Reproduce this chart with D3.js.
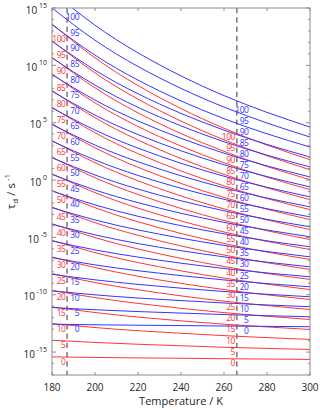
<!DOCTYPE html>
<html><head><meta charset="utf-8">
<script src="https://cdn.jsdelivr.net/npm/d3@7"></script>
<style>body{margin:0;background:#fff} svg{display:block} text{font-family:"Open Sans",sans-serif}</style>
</head><body><svg id="c" width="320" height="410"></svg>
<script>
// Temperatures (K) at which the curves were read
const temps = [180, 200, 220, 240, 260, 280, 300];
// Curve labels (activation energies)
const energies = [0,5,10,15,20,25,30,35,40,45,50,55,60,65,70,75,80,85,90,95,100];
// log10(tau_d / s^-1) for the blue family, one row per label, one column per temperature
const blueLog = [
  [-12.57,-12.62,-12.66,-12.69,-12.73,-12.76,-12.79],
  [-11.12,-11.31,-11.47,-11.60,-11.73,-11.83,-11.92],
  [-9.67,-10.01,-10.29,-10.51,-10.72,-10.89,-11.05],
  [-8.22,-8.70,-9.10,-9.43,-9.72,-9.96,-10.18],
  [-6.77,-7.40,-7.91,-8.34,-8.71,-9.03,-9.31],
  [-5.31,-6.09,-6.72,-7.25,-7.71,-8.10,-8.44],
  [-3.86,-4.78,-5.54,-6.16,-6.70,-7.16,-7.57],
  [-2.41,-3.48,-4.35,-5.07,-5.70,-6.23,-6.70],
  [-0.96,-2.17,-3.16,-3.98,-4.69,-5.30,-5.82],
  [0.49,-0.87,-1.97,-2.90,-3.69,-4.36,-4.95],
  [1.94,0.44,-0.79,-1.81,-2.68,-3.43,-4.08],
  [3.39,1.75,0.40,-0.72,-1.68,-2.50,-3.21],
  [4.84,3.05,1.59,0.37,-0.68,-1.57,-2.34],
  [6.29,4.36,2.78,1.46,0.33,-0.63,-1.47],
  [7.75,5.66,3.96,2.55,1.33,0.30,-0.60],
  [9.20,6.97,5.15,3.64,2.34,1.23,0.27],
  [10.65,8.28,6.34,4.72,3.34,2.17,1.14],
  [12.10,9.58,7.52,5.81,4.35,3.10,2.01],
  [13.55,10.89,8.71,6.90,5.35,4.03,2.88],
  [15.00,12.19,9.90,7.99,6.36,4.97,3.75],
  [16.45,13.50,11.09,9.08,7.36,5.90,4.62]
];
// log10(tau_d / s^-1) for the red family
const redLog = [
  [-15.42,-15.47,-15.51,-15.54,-15.58,-15.61,-15.64],
  [-13.97,-14.16,-14.32,-14.45,-14.58,-14.68,-14.77],
  [-12.52,-12.86,-13.14,-13.36,-13.57,-13.74,-13.90],
  [-11.07,-11.55,-11.95,-12.28,-12.57,-12.81,-13.03],
  [-9.62,-10.25,-10.76,-11.19,-11.56,-11.88,-12.16],
  [-8.16,-8.94,-9.57,-10.10,-10.56,-10.95,-11.29],
  [-6.71,-7.63,-8.39,-9.01,-9.55,-10.01,-10.42],
  [-5.26,-6.33,-7.20,-7.92,-8.55,-9.08,-9.55],
  [-3.81,-5.02,-6.01,-6.83,-7.54,-8.15,-8.67],
  [-2.36,-3.72,-4.82,-5.75,-6.54,-7.21,-7.80],
  [-0.91,-2.41,-3.64,-4.66,-5.53,-6.28,-6.93],
  [0.54,-1.10,-2.45,-3.57,-4.53,-5.35,-6.06],
  [1.99,0.20,-1.26,-2.48,-3.53,-4.42,-5.19],
  [3.44,1.51,-0.07,-1.39,-2.52,-3.48,-4.32],
  [4.90,2.81,1.11,-0.30,-1.52,-2.55,-3.45],
  [6.35,4.12,2.30,0.79,-0.51,-1.62,-2.58],
  [7.80,5.43,3.49,1.87,0.49,-0.68,-1.71],
  [9.25,6.73,4.67,2.96,1.50,0.25,-0.84],
  [10.70,8.04,5.86,4.05,2.50,1.18,0.03],
  [12.15,9.34,7.05,5.14,3.51,2.12,0.90],
  [13.60,10.65,8.24,6.23,4.51,3.05,1.77]
];
const xTicks = [180, 200, 220, 240, 260, 280, 300];
const yMajorExp = [-15, -10, -5, 0, 5, 10, 15];
const dashedTemps = [187, 266];
const labelTemps = {redLeft: 186.3, blueLeft: 192.6, redRight: 265.1, blueRight: 271.4};

const svg = d3.select("#c");
const L = 52, R = 310, T = 8, B = 375;
const x = d3.scaleLinear().domain([180, 300]).range([L, R]);
const y = d3.scaleLog().domain([1e-17, 1e15]).range([B, T]);
const BLUE = "#3535ff", RED = "#ff3535";

svg.append("defs").append("clipPath").attr("id", "clip")
  .append("rect").attr("x", L).attr("y", T).attr("width", R - L).attr("height", B - T);

// dashed reference lines
svg.selectAll(".dash").data(dashedTemps).enter().append("line")
  .attr("x1", d => x(d)).attr("x2", d => x(d)).attr("y1", T).attr("y2", B)
  .attr("stroke", "#333").attr("stroke-width", 1).attr("stroke-dasharray", "5.3,4");

const line = d3.line().x((d, i) => x(temps[i])).y(d => y(Math.pow(10, d))).curve(d3.curveNatural);
const g = svg.append("g").attr("clip-path", "url(#clip)");
function drawFamily(rows, color) {
  g.selectAll(null).data(rows).enter().append("path")
    .attr("d", line).attr("fill", "none").attr("stroke", color).attr("stroke-width", 1);
}
drawFamily(redLog, RED);
drawFamily(blueLog, BLUE);

function addLabels(rows, color, tLab) {
  rows.forEach((row, k) => {
    const interp = d3.scaleLinear().domain(temps).range(row);
    svg.append("text").attr("x", x(tLab)).attr("y", y(Math.pow(10, interp(tLab))) + 4)
      .attr("text-anchor", "end").attr("dominant-baseline", "central")
      .attr("font-size", 8.5).attr("letter-spacing", -0.45).attr("fill", color).text(energies[k]);
  });
}
addLabels(redLog, RED, labelTemps.redLeft);
addLabels(blueLog, BLUE, labelTemps.blueLeft);
addLabels(redLog, RED, labelTemps.redRight);
addLabels(blueLog, BLUE, labelTemps.blueRight);

// frame
svg.append("rect").attr("x", L).attr("y", T).attr("width", R - L).attr("height", B - T)
  .attr("fill", "none").attr("stroke", "#8c8c8c").attr("stroke-width", 1);

// x ticks
xTicks.forEach(t => {
  [[B, B - 3], [T, T + 3]].forEach(([a, b]) => svg.append("line")
    .attr("x1", x(t)).attr("x2", x(t)).attr("y1", a).attr("y2", b).attr("stroke", "#8c8c8c"));
  svg.append("text").attr("x", x(t)).attr("y", B + 12).attr("text-anchor", "middle")
    .attr("dominant-baseline", "central").attr("font-size", 10).attr("fill", "#262626").text(t);
});
// y ticks
d3.range(-17, 16).forEach(e => {
  const major = yMajorExp.includes(e);
  const len = major ? 4 : 2;
  const yy = y(Math.pow(10, e));
  svg.append("line").attr("x1", L).attr("x2", L + len).attr("y1", yy).attr("y2", yy).attr("stroke", "#8c8c8c");
  svg.append("line").attr("x1", R).attr("x2", R - len).attr("y1", yy).attr("y2", yy).attr("stroke", "#8c8c8c");
});
yMajorExp.forEach(e => {
  const yy = y(Math.pow(10, e));
  const t = svg.append("text").attr("x", 47).attr("y", yy + 5.5).attr("text-anchor", "end")
    .attr("font-size", 10).attr("fill", "#262626");
  t.append("tspan").text("10");
  t.append("tspan").attr("dy", -6).attr("font-size", 7).text(" " + e);
});

// axis titles
svg.append("text").attr("x", (L + R) / 2).attr("y", 400).attr("text-anchor", "middle")
  .attr("dominant-baseline", "central").attr("font-size", 11).attr("fill", "#262626").text("Temperature / K");
const yl = svg.append("text").attr("transform", `translate(15,${(T + B) / 2}) rotate(-90)`)
  .attr("text-anchor", "middle").attr("font-size", 11.5).attr("fill", "#262626");
yl.append("tspan").text("τ");
yl.append("tspan").attr("dy", 3).attr("font-size", 8).text("d");
yl.append("tspan").attr("dy", -3).text(" / s");
yl.append("tspan").attr("dy", -5).attr("font-size", 8).text(" -1");
</script></body></html>
